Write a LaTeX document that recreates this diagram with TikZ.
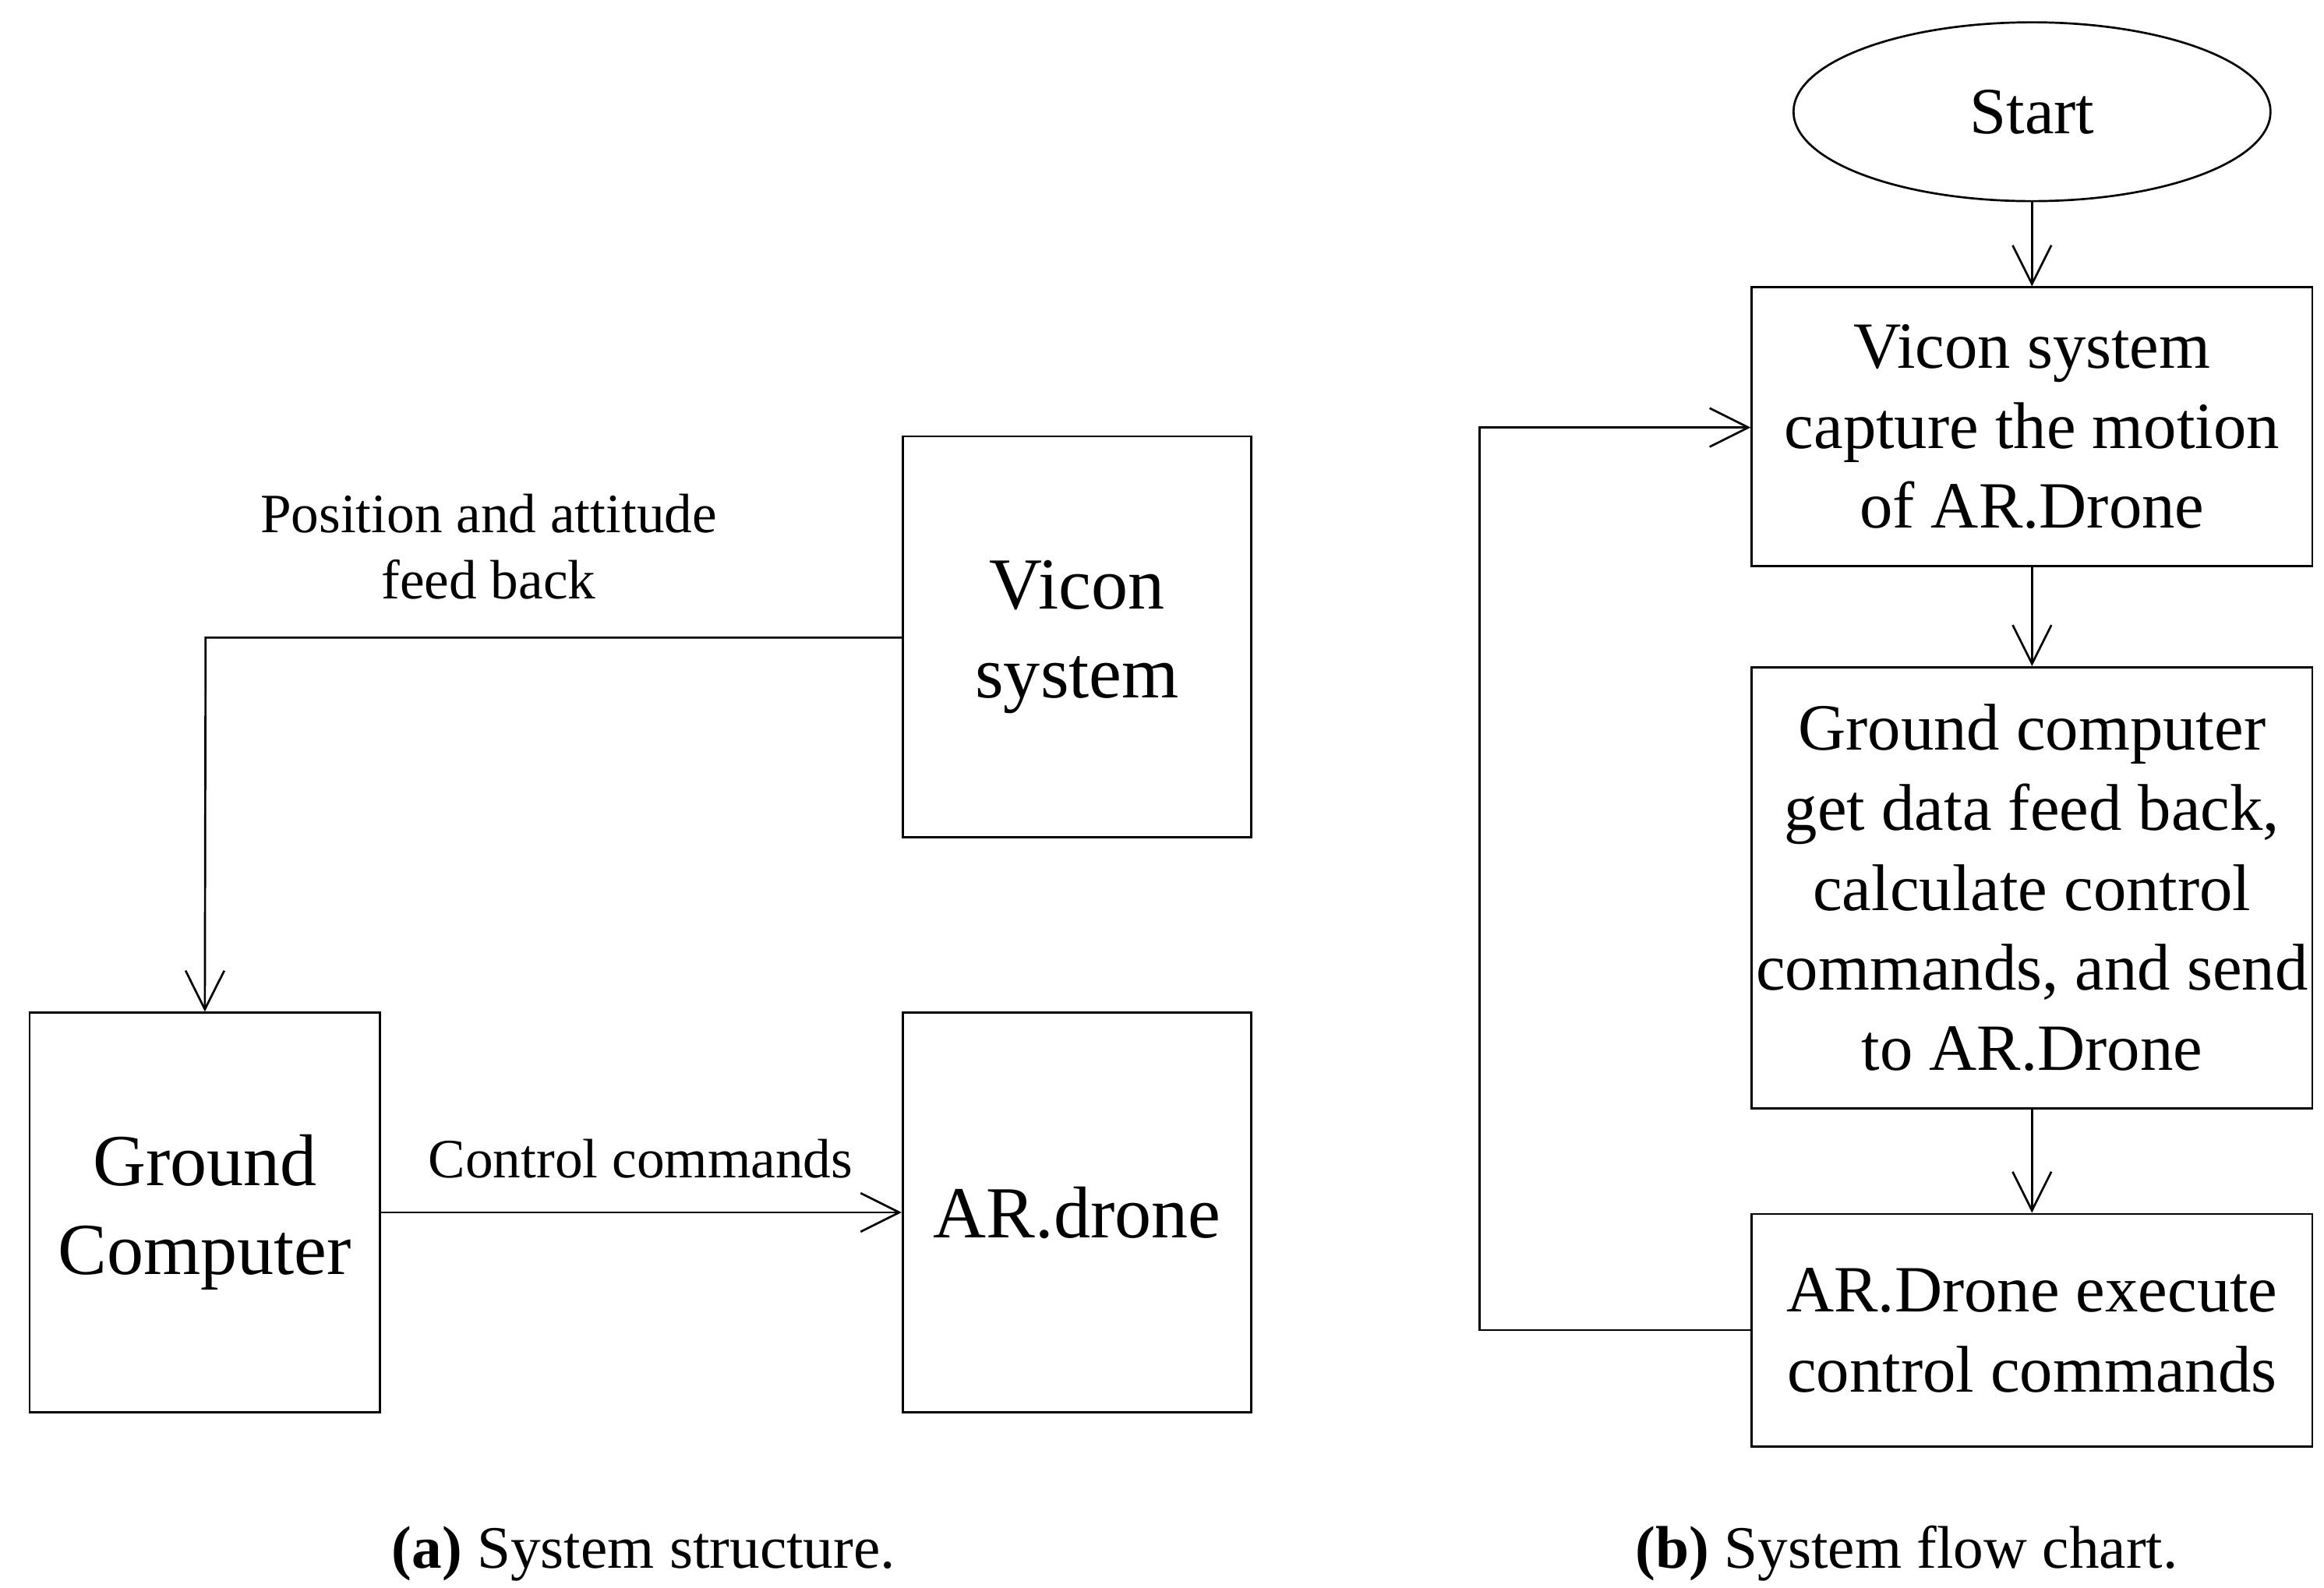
\documentclass[tikz,border=0pt]{standalone}
\usepackage{fontspec}
\setmainfont{Liberation Serif}
\usetikzlibrary{shapes.geometric,arrows.meta}
\begin{document}
\begin{tikzpicture}[x=0.01cm,y=-0.01cm,
  box/.style={draw,thin,align=center,inner sep=0pt},
  arr/.style={-{Straight Barb[length=2.6mm,width=2.6mm]},thin},
  lbl/.style={font=\fontsize{10.6}{12.6}\selectfont,align=center}]
\useasboundingbox (0,0) rectangle (1560,1066);
% (a) system structure
\node[box,minimum width=2.34cm,minimum height=2.69cm,font=\fontsize{14}{17}\selectfont] (vicon) at (723,427.5) {Vicon\\system};
\node[box,minimum width=2.35cm,minimum height=2.68cm,font=\fontsize{14}{17}\selectfont] (ground) at (137.5,814) {Ground\\Computer};
\node[box,minimum width=2.34cm,minimum height=2.68cm,font=\fontsize{14}{17}\selectfont] (drone) at (723,814) {AR.drone};
\coordinate (c1) at (138,428);
\draw[arr] (vicon.west |- c1) -- (c1) -- (ground.north);
\node[lbl] at (328,367) {Position and attitude\\feed back};
\draw[arr] (ground.east) -- (drone.west);
\node[lbl] at (430,778) {Control commands};
\node[font=\fontsize{11.5}{14}\selectfont] (capa) at (432,1043) {\textbf{(a)} System structure.};
% (b) system flow chart
\node[draw,thin,ellipse,minimum width=3.2cm,minimum height=1.2cm,font=\fontsize{12.6}{15}\selectfont] (start) at (1364,75) {Start};
\node[box,minimum width=3.76cm,minimum height=1.87cm,font=\fontsize{12.6}{15.3}\selectfont] (s1) at (1364,286.5) {Vicon system\\capture the motion\\of AR.Drone};
\node[box,minimum width=3.76cm,minimum height=2.96cm,font=\fontsize{12.6}{15.3}\selectfont] (s2) at (1364,596) {Ground computer\\get data feed back,\\calculate control\\commands, and send\\to AR.Drone};
\node[box,minimum width=3.76cm,minimum height=1.56cm,font=\fontsize{12.6}{15.3}\selectfont] (s3) at (1364,893) {AR.Drone execute\\control commands};
\draw[arr] (start) -- (s1);
\draw[arr] (s1) -- (s2);
\draw[arr] (s2) -- (s3);
\coordinate (c2) at (993,893);
\coordinate (c3) at (993,287);
\draw[arr] (s3.west) -- (c2) -- (c3) -- (s1.west |- c3);
\node[font=\fontsize{11.5}{14}\selectfont] (capb) at (1280,1043) {\textbf{(b)} System flow chart.};
\end{tikzpicture}
\end{document}
